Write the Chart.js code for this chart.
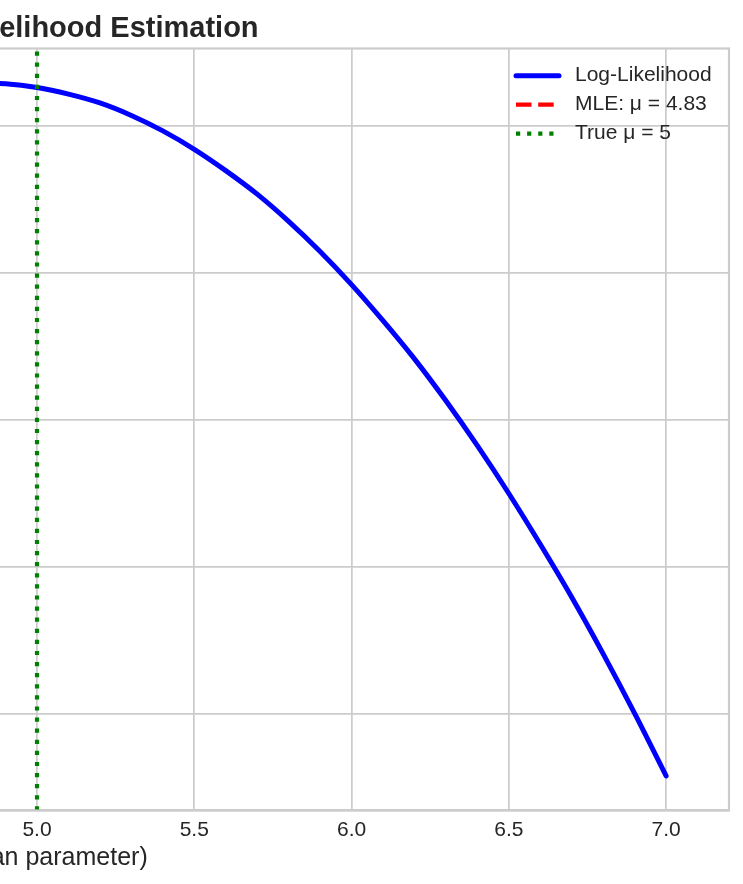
<!DOCTYPE html>
<html>
<head>
<meta charset="utf-8">
<script src="https://cdn.jsdelivr.net/npm/chart.js@4.4.1/dist/chart.umd.min.js"></script>
<style>
  html, body { margin: 0; padding: 0; background: #fff; overflow: hidden; }
  /* the picture is a crop of a wider figure: the y axis sits off to the left */
  #wrap { position: absolute; left: -755px; top: 0; width: 1498px; height: 884px; }
</style>
</head>
<body>
<div id="wrap"><canvas id="mleChart" width="1498" height="884"></canvas></div>
<script>
const muValues = [3.0, 3.1, 3.2, 3.3, 3.4, 3.5, 3.6, 3.7, 3.8, 3.9,
                  4.0, 4.1, 4.2, 4.3, 4.4, 4.5, 4.6, 4.7, 4.8, 4.9,
                  5.0, 5.1, 5.2, 5.3, 5.4, 5.5, 5.6, 5.7, 5.8, 5.9,
                  6.0, 6.1, 6.2, 6.3, 6.4, 6.5, 6.6, 6.7, 6.8, 6.9, 7.0];
const logLik = [-181.2, -174.1, -167.3, -161.0, -155.1, -149.6, -144.5, -139.7, -135.4, -131.5,
                -128.0, -124.9, -122.1, -119.8, -117.9, -116.4, -115.3, -114.5, -114.2, -114.3,
                -114.8, -115.7, -116.9, -118.6, -120.7, -123.2, -126.1, -129.3, -133.0, -137.1,
                -141.6, -146.5, -151.7, -157.4, -163.5, -170.0, -176.9, -184.1, -191.8, -199.9, -208.4];
const mleMu = 4.83;
const trueMu = 5;
const xTicks = [3.0, 3.5, 4.0, 4.5, 5.0, 5.5, 6.0, 6.5, 7.0];
const yTicks = [-200, -180, -160, -140, -120];
const xRange = [2.8, 7.2];
const yRange = [-213.1, -109.5];

const GRID = '#cccccc';
const TEXT = '#262626';
Chart.defaults.font.family = '"Liberation Sans", Arial, sans-serif';
Chart.defaults.color = TEXT;

// top and right spines (whitegrid style draws all four)
const framePlugin = {
  id: 'frame',
  afterDatasetsDraw(chart) {
    const { ctx, chartArea: a } = chart;
    ctx.save();
    ctx.strokeStyle = GRID;
    ctx.lineWidth = 2.2;
    ctx.strokeRect(a.left, a.top, a.right - a.left, a.bottom - a.top);
    ctx.restore();
  }
};

// legend inside the plot, upper right, no frame
const legendPlugin = {
  id: 'insideLegend',
  afterDraw(chart) {
    const { ctx, chartArea } = chart;
    const x0 = chartArea.right - 213;
    const x1 = x0 + 43;
    const tx = x0 + 59;
    let y = chartArea.top + 27.2;
    ctx.save();
    ctx.font = '21px "Liberation Sans", Arial, sans-serif';
    ctx.textBaseline = 'middle';
    chart.data.datasets.forEach(ds => {
      ctx.beginPath();
      ctx.strokeStyle = ds.borderColor;
      ctx.lineWidth = ds.borderWidth;
      ctx.lineCap = ds.borderCapStyle || 'butt';
      ctx.setLineDash(ds.borderDash || []);
      ctx.moveTo(x0, y);
      ctx.lineTo(x1, y);
      ctx.stroke();
      ctx.setLineDash([]);
      ctx.fillStyle = TEXT;
      ctx.fillText(ds.label, tx, y);
      y += 29;
    });
    ctx.restore();
  }
};

const data = {
  datasets: [
    {
      label: 'Log-Likelihood',
      data: muValues.map((m, i) => ({ x: m, y: logLik[i] })),
      borderColor: '#0000ff',
      borderWidth: 5,
      borderCapStyle: 'round',
      cubicInterpolationMode: 'monotone',
      pointRadius: 0,
      order: 3,
    },
    {
      label: 'MLE: μ = ' + mleMu.toFixed(2),
      data: [{ x: mleMu, y: yRange[0] }, { x: mleMu, y: yRange[1] }],
      borderColor: '#ff0000',
      borderWidth: 4.2,
      borderDash: [15.5, 6.7],
      pointRadius: 0,
      order: 2,
    },
    {
      label: 'True μ = ' + trueMu,
      data: [{ x: trueMu, y: yRange[0] }, { x: trueMu, y: yRange[1] }],
      borderColor: '#008000',
      borderWidth: 4.2,
      borderDash: [4.2, 6.9],
      pointRadius: 0,
      order: 1,
    },
  ],
};

// CONFIG
const config = {
  type: 'line',
  data,
  options: {
    responsive: false,
    animation: false,
    layout: { padding: { left: 0, right: 14, top: 0, bottom: 11 } },
    plugins: {
      legend: { display: false },
      tooltip: { enabled: false },
      title: {
        display: true,
        fullSize: false,
        text: 'Maximum Likelihood Estimation',
        color: TEXT,
        font: { size: 29, weight: 'bold' },
        padding: { top: 12, bottom: 1.7 },
      },
    },
    scales: {
      x: {
        type: 'linear',
        min: xRange[0],
        max: xRange[1],
        afterBuildTicks: s => { s.ticks = xTicks.map(v => ({ value: v })); },
        afterFit: s => { s.height = 62.5; },
        grid: { color: GRID, lineWidth: 1.75, drawTicks: false },
        border: { color: GRID, width: 2.2 },
        ticks: { color: TEXT, font: { size: 21 }, padding: 7, maxRotation: 0, callback: v => v.toFixed(1) },
        title: { display: true, text: 'μ (mean parameter)', color: TEXT, font: { size: 25 }, padding: { top: 0, bottom: 0 } },
      },
      y: {
        type: 'linear',
        min: yRange[0],
        max: yRange[1],
        afterBuildTicks: s => { s.ticks = yTicks.map(v => ({ value: v })); },
        afterFit: s => { s.width = 100; },
        grid: { color: GRID, lineWidth: 1.75, drawTicks: false },
        border: { color: GRID, width: 2.2 },
        ticks: { color: TEXT, font: { size: 21 }, padding: 8 },
        title: { display: true, text: 'Log-Likelihood', color: TEXT, font: { size: 25 } },
      },
    },
  },
  plugins: [framePlugin, legendPlugin],
};

// RENDER
const mleChart = new Chart(document.getElementById('mleChart'), config);
</script>
</body>
</html>
